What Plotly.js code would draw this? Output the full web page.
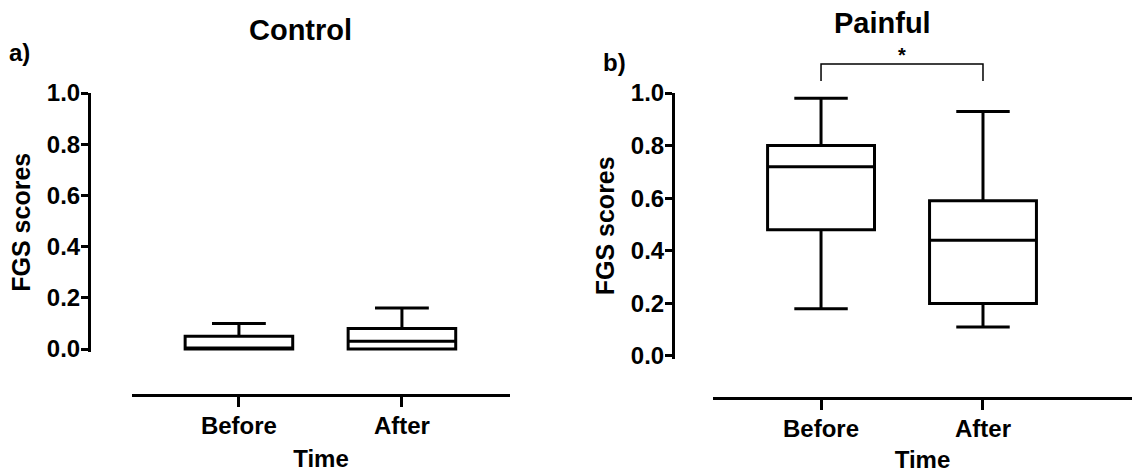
<!DOCTYPE html>
<html>
<head>
<meta charset="utf-8">
<script src="https://cdn.plot.ly/plotly-3.0.1.min.js"></script>
<style>html,body{margin:0;padding:0;background:#fff;}#chart{width:1132px;height:473px;}</style>
</head>
<body>
<div id="chart"></div>
<script>
const categories = ['Before', 'After'];
// Control group box statistics
const controlQ1 = [0.00, 0.00];
const controlMedian = [0.00, 0.03];
const controlQ3 = [0.05, 0.08];
const controlLower = [0.00, 0.00];
const controlUpper = [0.10, 0.16];
// Painful group box statistics
const painfulQ1 = [0.48, 0.20];
const painfulMedian = [0.72, 0.44];
const painfulQ3 = [0.80, 0.59];
const painfulLower = [0.18, 0.11];
const painfulUpper = [0.98, 0.93];
const yTicks = [0, 0.2, 0.4, 0.6, 0.8, 1.0];
const yTickText = ['0.0', '0.2', '0.4', '0.6', '0.8', '1.0'];

const W = 1132, H = 473;
const px = v => v / W;
const py = v => 1 - v / H;
const FONT = 'Liberation Sans, Arial, Helvetica, sans-serif';
const bold = (size) => ({family: FONT, size: size, color: '#000', weight: 'bold'});

function boxTrace(q1, med, q3, lo, hi, xa, ya) {
  return {
    type: 'box', x: categories, q1: q1, median: med, q3: q3,
    lowerfence: lo, upperfence: hi, xaxis: xa, yaxis: ya,
    width: 0.66, whiskerwidth: 0.5, boxpoints: false,
    fillcolor: 'rgba(0,0,0,0)', line: {color: '#000', width: 3},
    showlegend: false, hoverinfo: 'skip'
  };
}

const data = [
  boxTrace(controlQ1, controlMedian, controlQ3, controlLower, controlUpper, 'x', 'y'),
  boxTrace(painfulQ1, painfulMedian, painfulQ3, painfulLower, painfulUpper, 'x2', 'y2')
];

function xAxis(domain, pos, range) {
  return {
    domain: domain, anchor: 'free', position: pos, range: range,
    type: 'category', showline: true, linewidth: 3, linecolor: '#000',
    ticks: 'outside', ticklen: 10, tickwidth: 3, tickcolor: '#000',
    ticklabelstandoff: -2,
    showgrid: false, zeroline: false, tickfont: bold(24),
    title: {text: 'Time', font: bold(24), standoff: 12}, fixedrange: true
  };
}
function yAxis(domain, pos, standoff) {
  return {
    domain: domain, anchor: 'free', position: pos, range: [-0.01, 1.0],
    showline: true, linewidth: 3, linecolor: '#000',
    ticks: 'outside', ticklen: 7, tickwidth: 3, tickcolor: '#000',
    ticklabelstandoff: -4,
    tickvals: yTicks, ticktext: yTickText,
    showgrid: false, zeroline: false, tickfont: bold(24),
    title: {text: 'FGS scores', font: bold(25), standoff: standoff}, fixedrange: true
  };
}

const layout = {
  width: W, height: H,
  margin: {l: 0, r: 0, t: 0, b: 0},
  paper_bgcolor: '#fff', plot_bgcolor: 'rgba(0,0,0,0)',
  showlegend: false,
  xaxis: xAxis([px(132), px(510)], py(395), [-0.656, 1.663]),
  yaxis: yAxis([py(351.6), py(93)], px(89), 8),
  xaxis2: xAxis([px(713), 1], py(398), [-0.667, 1.92]),
  yaxis2: yAxis([py(358.6), py(93)], px(673), 8),
  shapes: [
    {type: 'path', xref: 'x2', yref: 'paper',
     path: 'M 0,' + py(81) + ' L 0,' + py(64) + ' L 1,' + py(64) + ' L 1,' + py(81),
     line: {color: '#000', width: 1.5}}
  ],
  annotations: [
    {text: 'Control', xref: 'paper', yref: 'paper', x: px(300), y: py(30), showarrow: false, font: bold(29), xanchor: 'center', yanchor: 'middle'},
    {text: 'Painful', xref: 'paper', yref: 'paper', x: px(882), y: py(23), showarrow: false, font: bold(29), xanchor: 'center', yanchor: 'middle'},
    {text: 'a)', xref: 'paper', yref: 'paper', x: px(19), y: py(52), showarrow: false, font: bold(24), xanchor: 'center', yanchor: 'middle'},
    {text: 'b)', xref: 'paper', yref: 'paper', x: px(614), y: py(63), showarrow: false, font: bold(24), xanchor: 'center', yanchor: 'middle'},
    {text: '*', xref: 'x2', yref: 'paper', x: 0.5, y: py(55), showarrow: false, font: bold(20), xanchor: 'center', yanchor: 'middle'}
  ]
};

Plotly.newPlot('chart', data, layout, {displayModeBar: false, staticPlot: true});
</script>
</body>
</html>
